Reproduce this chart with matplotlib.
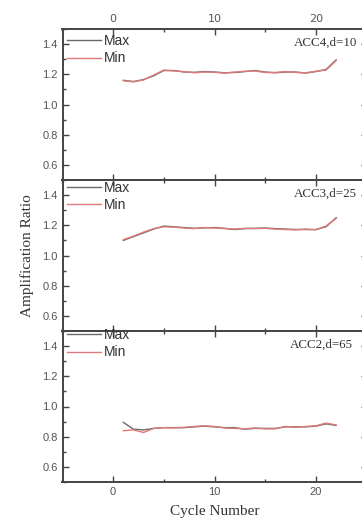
import matplotlib
matplotlib.use("Agg")
import matplotlib.pyplot as plt
from matplotlib.ticker import MultipleLocator

cycles = list(range(1, 23))

acc4_max = [1.160, 1.152, 1.165, 1.190, 1.225, 1.225, 1.215, 1.213, 1.218, 1.215, 1.210,
            1.212, 1.218, 1.225, 1.215, 1.210, 1.215, 1.215, 1.208, 1.218, 1.232, 1.295]
acc4_min = [1.158, 1.150, 1.163, 1.195, 1.228, 1.222, 1.218, 1.210, 1.215, 1.213, 1.208,
            1.215, 1.220, 1.222, 1.212, 1.212, 1.218, 1.212, 1.210, 1.220, 1.228, 1.290]

acc3_max = [1.100, 1.125, 1.150, 1.175, 1.195, 1.190, 1.185, 1.180, 1.183, 1.185, 1.180,
            1.172, 1.178, 1.180, 1.182, 1.178, 1.175, 1.172, 1.172, 1.172, 1.190, 1.250]
acc3_min = [1.105, 1.128, 1.155, 1.178, 1.190, 1.188, 1.182, 1.178, 1.185, 1.182, 1.178,
            1.175, 1.180, 1.178, 1.180, 1.175, 1.172, 1.170, 1.175, 1.170, 1.195, 1.245]

acc2_max = [0.895, 0.850, 0.845, 0.855, 0.860, 0.860, 0.860, 0.865, 0.870, 0.865, 0.860,
            0.860, 0.850, 0.855, 0.855, 0.855, 0.865, 0.865, 0.865, 0.870, 0.885, 0.875]
acc2_min = [0.840, 0.845, 0.828, 0.855, 0.860, 0.858, 0.862, 0.868, 0.872, 0.868, 0.858,
            0.855, 0.852, 0.858, 0.852, 0.852, 0.868, 0.862, 0.868, 0.872, 0.890, 0.878]

panel_labels = ["ACC4,d=10", "ACC3,d=25", "ACC2,d=65"]
series_names = ["Max", "Min"]
y_ticks = [0.6, 0.8, 1.0, 1.2, 1.4]
x_ticks = [0, 10, 20]

panels = [(acc4_max, acc4_min), (acc3_max, acc3_min), (acc2_max, acc2_min)]

W, H = 362, 525
fig = plt.figure(figsize=(W / 100, H / 100), dpi=100)

left_px, right_px = 62.5, 366.5
tops = [29, 180, 331]
heights = [151, 151, 151]
legend_y = [0.967, 0.995, 1.02]
text_x = [17.85, 17.85, 17.4]

sans = ["Liberation Sans", "DejaVu Sans"]
serif = ["Liberation Serif", "DejaVu Serif"]

axes = []
for i, ((ymax, ymin), top, h) in enumerate(zip(panels, tops, heights)):
    ax = fig.add_axes([left_px / W, (H - top - h) / H, (right_px - left_px) / W, h / H])
    axes.append(ax)
    ax.plot(cycles, ymax, color="#6a6a6a", lw=1.0, label=series_names[0])
    ax.plot(cycles, ymin, color="#e07a7a", lw=1.0, label=series_names[1])
    ax.set_xlim(-5, 25)
    ax.set_ylim(0.5, 1.5)
    ax.set_yticks(y_ticks)
    ax.yaxis.set_minor_locator(MultipleLocator(0.1))
    ax.set_xticks(x_ticks)
    ax.xaxis.set_minor_locator(MultipleLocator(5))
    ax.tick_params(which="both", direction="in", top=True, right=True,
                   labelsize=8, labelcolor="#555555", color="#444444")
    ax.tick_params(which="major", length=4, width=1)
    ax.tick_params(which="minor", length=2.5, width=1)
    for lab in ax.get_yticklabels() + ax.get_xticklabels():
        lab.set_family(sans)
    ax.tick_params(axis="x", labelbottom=(i == 2), labeltop=(i == 0))
    for s in ax.spines.values():
        s.set_color("#444444")
        s.set_linewidth(1.4)
    leg = ax.legend(loc="upper left", bbox_to_anchor=(0.014, legend_y[i]),
                    frameon=False, borderpad=0, borderaxespad=0,
                    handlelength=2.5, handletextpad=0.2, labelspacing=0.25,
                    prop={"family": sans, "size": 10})
    for t in leg.get_texts():
        t.set_color("#333333")
    ax.text(text_x[i], 1.41, panel_labels[i], fontsize=9.4, family=serif,
            color="#333333", va="center", ha="left")

axes[1].set_ylabel("Amplification Ratio", fontsize=11, family=serif, color="#333333", labelpad=6)
axes[2].set_xlabel("Cycle Number", fontsize=11, family=serif, color="#333333", labelpad=6)

fig.savefig("out.png", dpi=100)
